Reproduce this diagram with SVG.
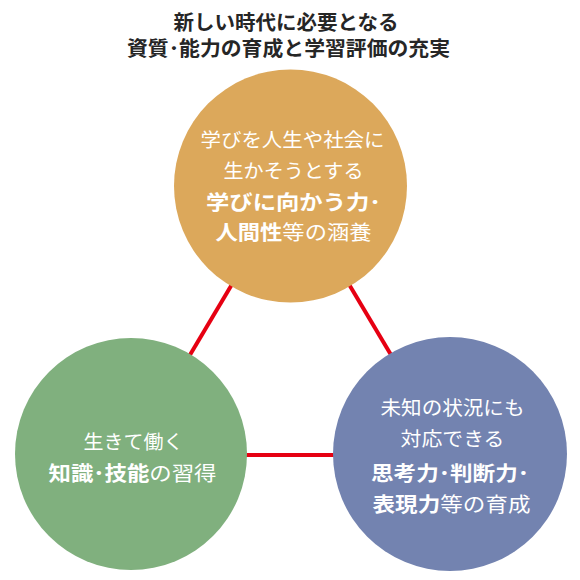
<svg xmlns="http://www.w3.org/2000/svg" width="580" height="580" viewBox="0 0 580 580">
<style>
text{font-family:"Noto Sans CJK JP","Noto Sans CJK SC",sans-serif;text-anchor:middle}
.title{font-size:20px;font-weight:700;fill:#262626}
.t{font-size:19.5px;fill:#ffffff;font-weight:400}
.bl{font-size:20.5px}
.b{font-weight:700}
.conn{stroke:#e60012;stroke-width:4;fill:none}
</style>
<rect width="580" height="580" fill="#ffffff"/>
<g id="title">
<text class="title" x="286" y="30" textLength="225" lengthAdjust="spacingAndGlyphs">新しい時代に必要となる</text>
<text class="title" x="288.5" y="56" textLength="323" lengthAdjust="spacingAndGlyphs">資質･能力の育成と学習評価の充実</text>
</g>
<g id="connectors">
<line class="conn" x1="290.5" y1="186" x2="131" y2="454"/>
<line class="conn" x1="290.5" y1="186" x2="450" y2="454"/>
<line class="conn" x1="131" y1="455" x2="450" y2="455"/>
</g>
<g id="node-top">
<circle cx="290.5" cy="186" r="116.5" fill="#dca85b"/>
<text class="t" x="292.5" y="147" textLength="184" lengthAdjust="spacingAndGlyphs">学びを人生や社会に</text>
<text class="t" x="293.5" y="178" textLength="140" lengthAdjust="spacingAndGlyphs">生かそうとする</text>
<text class="t bl b" x="293.5" y="210" textLength="175" lengthAdjust="spacingAndGlyphs">学びに向かう力･</text>
<text class="t bl" x="293.5" y="240" textLength="156" lengthAdjust="spacingAndGlyphs"><tspan class="b">人間性</tspan>等の涵養</text>
</g>
<g id="node-left">
<circle cx="131" cy="454" r="116" fill="#80b07e"/>
<text class="t" x="133.5" y="449" textLength="100" lengthAdjust="spacingAndGlyphs">生きて働く</text>
<text class="t bl" x="132.5" y="481" textLength="168" lengthAdjust="spacingAndGlyphs"><tspan class="b">知識･技能</tspan>の習得</text>
</g>
<g id="node-right">
<circle cx="450" cy="454" r="117" fill="#7383b0"/>
<text class="t" x="452.5" y="415" textLength="144" lengthAdjust="spacingAndGlyphs">未知の状況にも</text>
<text class="t" x="452.5" y="446" textLength="104" lengthAdjust="spacingAndGlyphs">対応できる</text>
<text class="t bl b" x="450" y="481" textLength="158" lengthAdjust="spacingAndGlyphs">思考力･判断力･</text>
<text class="t bl" x="451.5" y="512" textLength="158" lengthAdjust="spacingAndGlyphs"><tspan class="b">表現力</tspan>等の育成</text>
</g>
</svg>
